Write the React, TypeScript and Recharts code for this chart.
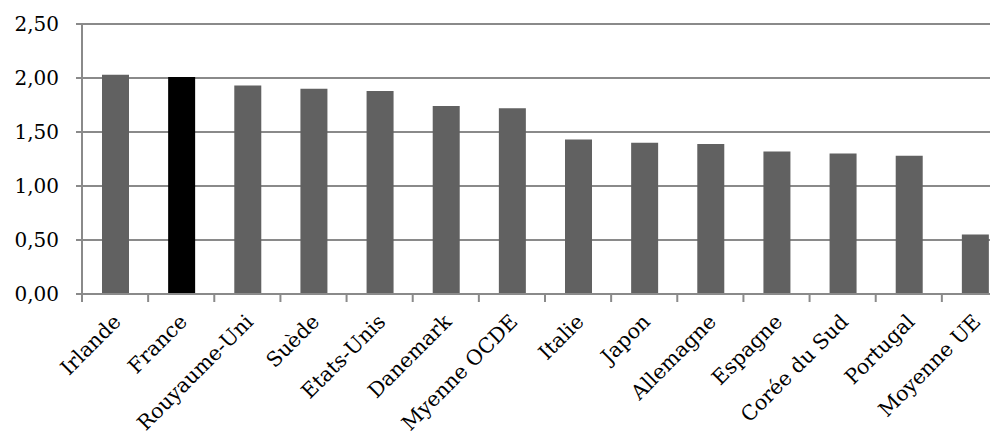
import React from 'react';
import { BarChart, Bar, XAxis, YAxis, CartesianGrid, Cell } from 'recharts';

const countries = ['Irlande', 'France', 'Rouyaume-Uni', 'Suède', 'Etats-Unis', 'Danemark', 'Myenne OCDE', 'Italie', 'Japon', 'Allemagne', 'Espagne', 'Corée du Sud', 'Portugal', 'Moyenne UE'];
const values = [2.03, 2.01, 1.93, 1.9, 1.88, 1.74, 1.72, 1.43, 1.4, 1.39, 1.32, 1.3, 1.28, 0.55];
const highlighted = ['France'];
const yTicks = [0, 0.5, 1, 1.5, 2, 2.5];

const data = countries.map((c, i) => ({ name: c, value: values[i] }));

const FONT = '"DejaVu Serif", serif';
const GRID = '#8a8a8a';

const XTick = (props: any) => {
  const { x, y, payload, index, visibleTicksCount } = props;
  const half = payload && typeof payload.offset === 'number' ? payload.offset : 33;
  const isLast = index === (visibleTicksCount ?? countries.length) - 1;
  return (
    <g>
      <line x1={x - half} x2={x - half} y1={y} y2={y + 8} stroke={GRID} strokeWidth={2} />
      {isLast && <line x1={x + half} x2={x + half} y1={y} y2={y + 8} stroke={GRID} strokeWidth={2} />}
      <g transform={`translate(${x + 7},${y + 29})`}>
        <text transform="rotate(-45)" textAnchor="end" fontFamily={FONT} fontSize={20.5} fill="#000">
          {payload.value}
        </text>
      </g>
    </g>
  );
};

export default function App() {
  return (
    <div style={{ width: 990, height: 431, overflow: 'hidden', marginBottom: -8 }}>
      <BarChart
        width={1002}
        height={431}
        data={data}
        margin={{ top: 16, right: 2, bottom: 0, left: 0 }}
        barSize={27}
      >
        <CartesianGrid vertical={false} stroke={GRID} strokeWidth={2} />
        <XAxis
          dataKey="name"
          interval={0}
          tickLine={false}
          tickSize={0}
          tickMargin={0}
          axisLine={{ stroke: GRID, strokeWidth: 2 }}
          tick={<XTick />}
          height={145}
        />
        <YAxis
          domain={[0, 2.5]}
          ticks={yTicks}
          width={74}
          tickSize={6}
          tickMargin={17}
          axisLine={{ stroke: GRID, strokeWidth: 2 }}
          tickLine={{ stroke: GRID, strokeWidth: 2 }}
          tick={{ fontFamily: FONT, fontSize: 20, fill: '#000' }}
          tickFormatter={(v: number) => v.toFixed(2).replace('.', ',')}
        />
        <Bar dataKey="value" isAnimationActive={false}>
          {data.map((d) => (
            <Cell key={d.name} fill={highlighted.includes(d.name) ? '#000000' : '#616161'} />
          ))}
        </Bar>
      </BarChart>
    </div>
  );
}
